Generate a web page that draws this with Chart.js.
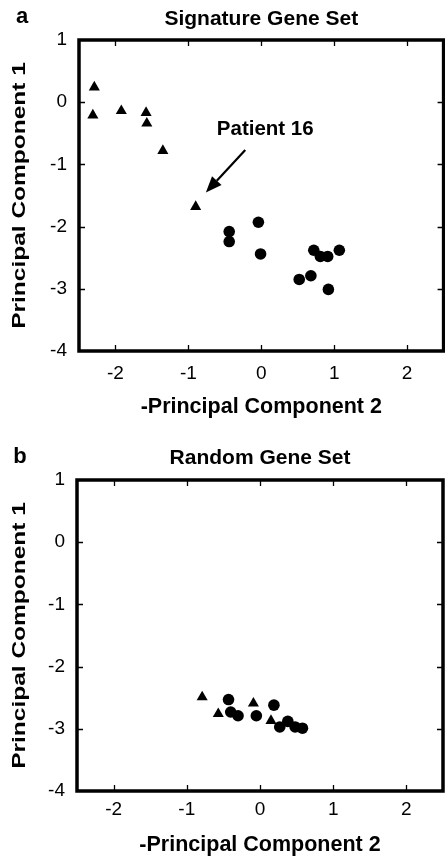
<!DOCTYPE html>
<html>
<head>
<meta charset="utf-8">
<script src="https://cdn.jsdelivr.net/npm/chart.js@4.4.1/dist/chart.umd.min.js"></script>
<style>
  html, body { margin: 0; padding: 0; background: #fff; overflow: hidden; }
  #wrap { position: relative; width: 445px; height: 861px; overflow: hidden; }
  canvas { position: absolute; left: 0; }
  #panelA { top: 0; }
  #panelB { top: 430px; }
</style>
</head>
<body>
<div id="wrap">
  <canvas id="panelA" width="450" height="430"></canvas>
  <canvas id="panelB" width="450" height="431"></canvas>
</div>
<script>
// shared axis ticks
const xTicks = [-2, -1, 0, 1, 2];
const yTicks = [1, 0, -1, -2, -3, -4];

// a: signature gene set
const sigTriX = [-2.29, -2.31, -1.92, -1.58, -1.57, -1.35, -0.90];
const sigTriY = [0.24, -0.21, -0.14, -0.17, -0.34, -0.78, -1.68];
const sigDotX = [-0.04, -0.44, -0.44, -0.01, 0.72, 0.81, 0.91, 1.07, 0.68, 0.52, 0.92];
const sigDotY = [-1.93, -2.08, -2.24, -2.44, -2.38, -2.48, -2.48, -2.38, -2.79, -2.85, -3.01];

// b: random gene set
const rndTriX = [-0.79, -0.57, -0.09, 0.15];
const rndTriY = [-2.49, -2.76, -2.59, -2.87];
const rndDotX = [-0.43, -0.40, -0.30, -0.05, 0.19, 0.27, 0.38, 0.48, 0.58];
const rndDotY = [-2.53, -2.73, -2.79, -2.79, -2.62, -2.97, -2.88, -2.97, -2.99];

// patient 16 callout (data coords)
const arrowFrom = [-0.22, -0.77];
const arrowTo = [-0.76, -1.45];
const calloutAt = [-0.61, -0.53];
const calloutText = 'Patient 16';

const xTitle = '-Principal Component 2';
const yTitle = 'Principal Component 1';

const FONT = '"Liberation Sans", Arial, Helvetica, sans-serif';

const toPts = (xs, ys) => xs.map((x, i) => ({ x: x, y: ys[i] }));

// frame, inward ticks, panel letter, titles, callout
const framePlugin = {
  id: 'framePlugin',
  afterDraw(chart, args, opts) {
    const ctx = chart.ctx;
    const { left, right, top, bottom } = chart.chartArea;
    const xs = chart.scales.x, ys = chart.scales.y;
    ctx.save();
    ctx.strokeStyle = '#000';
    ctx.fillStyle = '#000';

    ctx.lineWidth = 1.3;
    ctx.beginPath();
    xTicks.forEach(v => {
      const px = Math.round(xs.getPixelForValue(v)) + 0.5;
      ctx.moveTo(px, bottom); ctx.lineTo(px, bottom - 6);
      ctx.moveTo(px, top); ctx.lineTo(px, top + 6);
    });
    yTicks.slice(1, -1).forEach(v => {
      const py = Math.round(ys.getPixelForValue(v)) + 0.5;
      ctx.moveTo(left, py); ctx.lineTo(left + 6, py);
      ctx.moveTo(right, py); ctx.lineTo(right - 6, py);
    });
    ctx.stroke();

    ctx.lineWidth = 3.5;
    ctx.strokeRect(left, top, right - left, bottom - top);

    ctx.textBaseline = 'alphabetic';
    ctx.textAlign = 'center';
    ctx.font = 'bold 22px ' + FONT;
    ctx.fillText(opts.letter, opts.letterX, opts.letterY);
    ctx.font = 'bold 21px ' + FONT;
    ctx.fillText(opts.title, (left + right) / 2, opts.titleY);

    // y title, drawn wide like the original
    ctx.save();
    ctx.translate(opts.yTitleX, (top + bottom) / 2);
    ctx.rotate(-Math.PI / 2);
    ctx.scale(1.36, 1);
    ctx.font = 'bold 18px ' + FONT;
    ctx.fillText(yTitle, 0, 0);
    ctx.restore();

    if (opts.callout) {
      const x0 = xs.getPixelForValue(arrowFrom[0]), y0 = ys.getPixelForValue(arrowFrom[1]);
      const x1 = xs.getPixelForValue(arrowTo[0]), y1 = ys.getPixelForValue(arrowTo[1]);
      const ang = Math.atan2(y1 - y0, x1 - x0);
      const hl = 16, hw = 6.5;
      const bx = x1 - hl * Math.cos(ang), by = y1 - hl * Math.sin(ang);
      ctx.lineWidth = 2.2;
      ctx.beginPath();
      ctx.moveTo(x0, y0); ctx.lineTo(bx, by);
      ctx.stroke();
      ctx.beginPath();
      ctx.moveTo(x1, y1);
      ctx.lineTo(bx - hw * Math.sin(ang), by + hw * Math.cos(ang));
      ctx.lineTo(bx + hw * Math.sin(ang), by - hw * Math.cos(ang));
      ctx.closePath();
      ctx.fill();

      ctx.textAlign = 'left';
      ctx.font = 'bold 20.5px ' + FONT;
      ctx.fillText(calloutText, xs.getPixelForValue(calloutAt[0]), ys.getPixelForValue(calloutAt[1]));
    }
    ctx.restore();
  }
};

function makePanel(id, tri, dot, p) {
  return new Chart(document.getElementById(id), {
    type: 'scatter',
    data: {
      datasets: [
        { data: tri, pointStyle: 'triangle', pointRadius: 6.4, backgroundColor: '#000', borderWidth: 0 },
        { data: dot, pointStyle: 'circle', pointRadius: 5.8, backgroundColor: '#000', borderWidth: 0 }
      ]
    },
    options: {
      responsive: false,
      animation: false,
      events: [],
      devicePixelRatio: 1,
      layout: { padding: { top: p.top, right: p.right, bottom: 0, left: 0 } },
      plugins: {
        legend: { display: false },
        tooltip: { enabled: false },
        framePlugin: p.deco
      },
      scales: {
        x: {
          type: 'linear', min: -2.5, max: 2.5,
          afterBuildTicks: s => { s.ticks = xTicks.map(v => ({ value: v })); },
          afterFit: s => { s.height = p.xH; },
          grid: { display: false, drawTicks: false },
          border: { display: false },
          ticks: { color: '#000', font: { family: FONT, size: 19 }, padding: p.xPad, maxRotation: 0 },
          title: { display: true, text: xTitle, color: '#000',
                   font: { family: FONT, size: 21.5, weight: 'bold' }, padding: { top: 0, bottom: p.xTitlePad } }
        },
        y: {
          type: 'linear', min: -4, max: 1,
          afterBuildTicks: s => { s.ticks = yTicks.map(v => ({ value: v })); },
          afterFit: s => { s.width = p.yW; },
          grid: { display: false, drawTicks: false },
          border: { display: false },
          ticks: { color: '#000', font: { family: FONT, size: 19 }, padding: 12 }
        }
      }
    },
    plugins: [framePlugin]
  });
}

makePanel('panelA', toPts(sigTriX, sigTriY), toPts(sigDotX, sigDotY), {
  top: 40, right: 3, xH: 79, yW: 79, xPad: 11, xTitlePad: 10,
  deco: { letter: 'a', letterX: 22, letterY: 23, title: 'Signature Gene Set', titleY: 25, yTitleX: 25, callout: true }
});

makePanel('panelB', toPts(rndTriX, rndTriY), toPts(rndDotX, rndDotY), {
  top: 50, right: 7, xH: 70, yW: 77, xPad: 7, xTitlePad: 3,
  deco: { letter: 'b', letterX: 20, letterY: 33, title: 'Random Gene Set', titleY: 34, yTitleX: 25, callout: false }
});
</script>
</body>
</html>
